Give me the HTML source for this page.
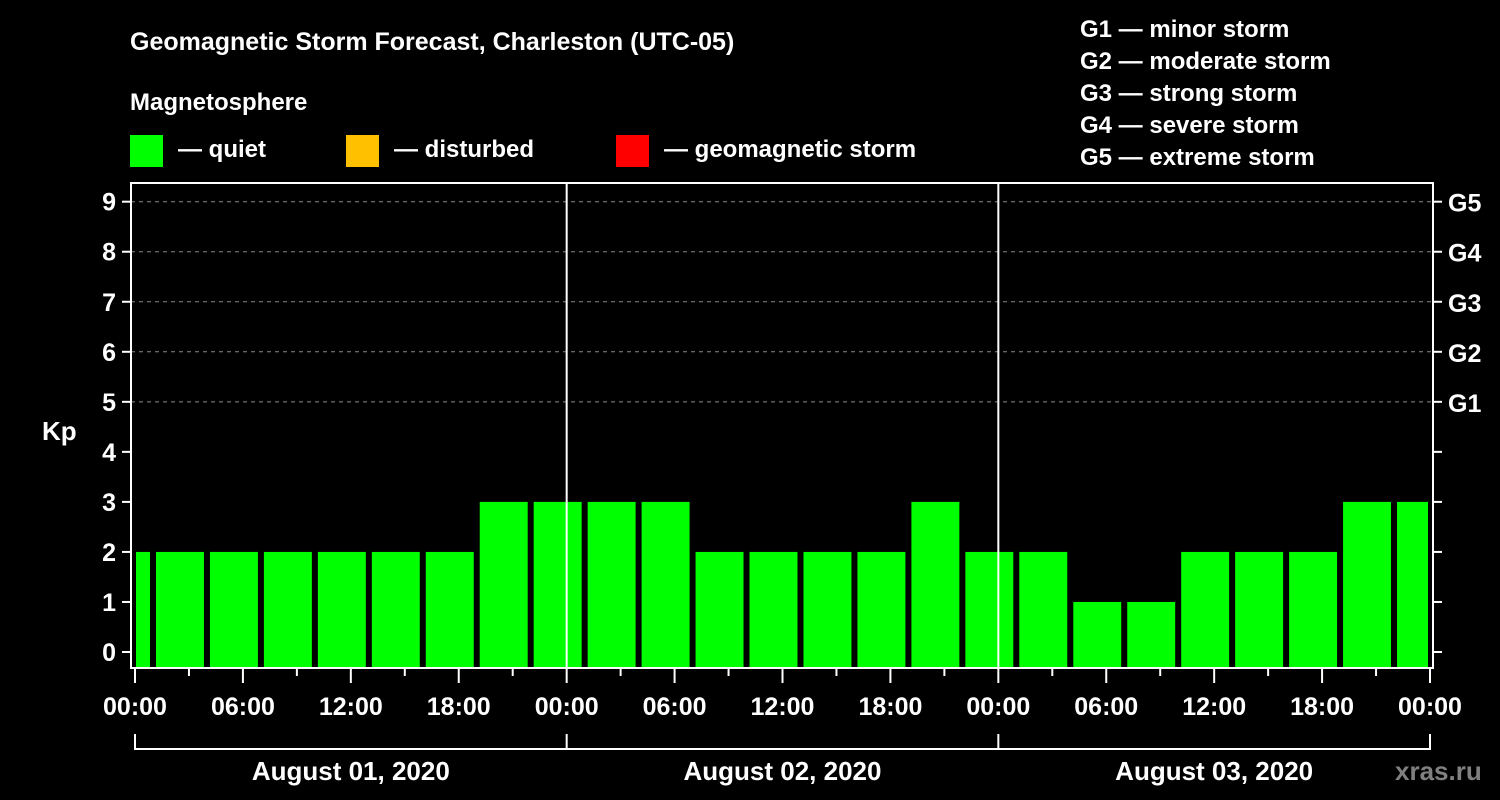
<!DOCTYPE html>
<html><head><meta charset="utf-8"><style>
html,body{margin:0;padding:0;background:#000;width:1500px;height:800px;overflow:hidden}
svg text{font-family:"Liberation Sans",Arial,sans-serif;font-weight:bold;fill:#fff}
</style></head><body>
<svg id="chart" width="1500" height="800" xmlns="http://www.w3.org/2000/svg">
<text x="130" y="50" font-size="25">Geomagnetic Storm Forecast, Charleston (UTC-05)</text>
<text x="130" y="110" font-size="24">Magnetosphere</text>
<g><rect x="130" y="135" width="33" height="32" fill="#00ff00"/><text x="178" y="157" font-size="24">— quiet</text></g>
<g><rect x="346" y="135" width="33" height="32" fill="#ffc000"/><text x="394" y="157" font-size="24">— disturbed</text></g>
<g><rect x="616" y="135" width="33" height="32" fill="#ff0000"/><text x="664" y="157" font-size="24">— geomagnetic storm</text></g>
<g font-size="24">
<text x="1080" y="37">G1 — minor storm</text>
<text x="1080" y="69">G2 — moderate storm</text>
<text x="1080" y="101">G3 — strong storm</text>
<text x="1080" y="133">G4 — severe storm</text>
<text x="1080" y="165">G5 — extreme storm</text>
</g>
<text x="42" y="440" font-size="26">Kp</text>
<text x="1395" y="780" font-size="26" style="fill:#808080">xras.ru</text>
<g id="grid"></g><g id="bars"></g><g id="axes"></g>
</svg>
<script>
const kpValues=[2,2,2,2,2,2,2,3,3,3,3,2,2,2,2,3,2,2,1,1,2,2,2,3,3];
const yTicks=[0,1,2,3,4,5,6,7,8,9];
const gLabels=["G1","G2","G3","G4","G5"];
const gLevels=[5,6,7,8,9];
const hourLabels=["00:00","06:00","12:00","18:00"];
const dayLabels=["August 01, 2020","August 02, 2020","August 03, 2020"];
const startHour=-2, slotHours=3, totalHours=72;

const NS="http://www.w3.org/2000/svg";
const X0=135,X1=1430,L=131,R=1433,T=183,B=668;
const x=h=>X0+(X1-X0)*h/totalHours;
const y=v=>652-v*(652-201.7)/9;
function mk(tag,attrs,parent){const e=document.createElementNS(NS,tag);for(const k in attrs)e.setAttribute(k,attrs[k]);parent.appendChild(e);return e;}
const grid=document.getElementById('grid'),bars=document.getElementById('bars'),axes=document.getElementById('axes');

gLevels.forEach(v=>{const l=mk('line',{x1:L,x2:R,y1:y(v),y2:y(v),stroke:'#888','stroke-dasharray':'4,4','stroke-width':1},grid);

});

kpValues.forEach((v,i)=>{
  let h0=startHour+i*slotHours,h1=h0+slotHours;
  let a=x(h0)+3,b=x(h1)-3;
  a=Math.max(a,X0+1);b=Math.min(b,X1-2);
  const col=v>=5?'#ff0000':(v>=4?'#ffc000':'#00ff00');
  const r=mk('rect',{x:a,y:y(v),width:b-a,height:B-y(v),fill:col},bars);
  
  
});

const frame=mk('rect',{x:L,y:T,width:R-L,height:B-T,fill:'none',stroke:'#fff','stroke-width':2},axes);


[1,2].forEach(d=>{const l=mk('line',{x1:x(d*24),x2:x(d*24),y1:T,y2:B,stroke:'#fff','stroke-width':2},axes);

});

yTicks.forEach(v=>{
  mk('line',{x1:122,x2:L,y1:y(v),y2:y(v),stroke:'#fff','stroke-width':2},axes);
  mk('line',{x1:R,x2:R+9,y1:y(v),y2:y(v),stroke:'#fff','stroke-width':2},axes);
  const t=mk('text',{x:116,y:y(v)+9,'font-size':25,'text-anchor':'end'},axes);t.textContent=v;
  
  
});
gLevels.forEach((v,i)=>{const t=mk('text',{x:1448,y:y(v)+10,'font-size':25},axes);t.textContent=gLabels[i];

});

for(let h=0;h<=totalHours;h+=3){
  const major=h%6===0;
  mk('line',{x1:x(h),x2:x(h),y1:B,y2:B+(major?15:8),stroke:'#fff','stroke-width':2},axes);
  if(major){const t=mk('text',{x:x(h),y:715,'font-size':25,'text-anchor':'middle'},axes);t.textContent=hourLabels[(h/6)%4];
  
  }
}
mk('line',{x1:X0,x2:X1,y1:749,y2:749,stroke:'#fff','stroke-width':2},axes);
for(let d=0;d<=3;d++)mk('line',{x1:x(d*24),x2:x(d*24),y1:734,y2:750,stroke:'#fff','stroke-width':2},axes);
dayLabels.forEach((s,d)=>{const t=mk('text',{x:x(d*24+12),y:780,'font-size':26,'text-anchor':'middle'},axes);t.textContent=s;

});
</script>
</body></html>
